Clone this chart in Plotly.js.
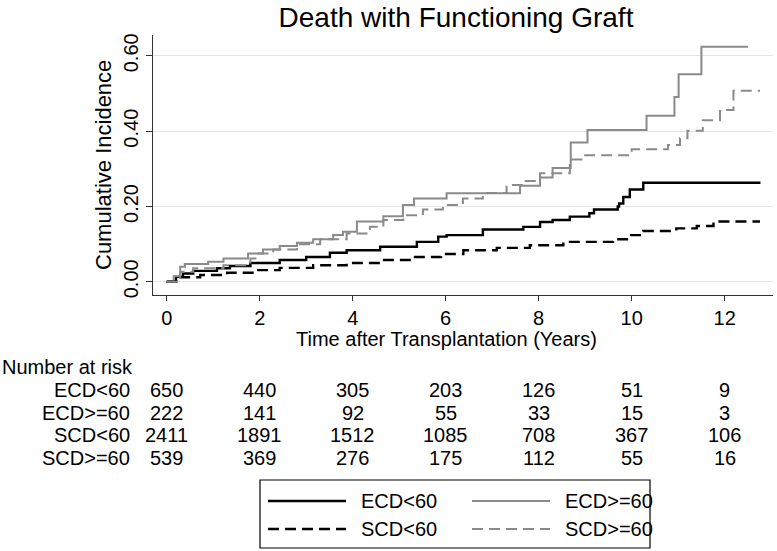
<!DOCTYPE html>
<html><head><meta charset="utf-8">
<script src="https://cdn.plot.ly/plotly-3.0.1.min.js"></script>
<style>body{margin:0;padding:0;background:#fff}#chart{width:777px;height:551px}</style>
</head><body><div id="chart"></div>
<script>
// ---- data ----
const seriesNames = ['ECD&lt;60', 'ECD&gt;=60', 'SCD&lt;60', 'SCD&gt;=60'];

const ecdLt60Time  = [0, 0.2, 0.35, 0.57, 1.08, 1.36, 1.8, 2.43, 3.0, 3.51, 3.87, 4.59, 5.38, 5.84, 6.02, 6.8, 7.67, 8.03, 8.3, 8.67, 9.09, 9.19, 9.7, 9.73, 9.82, 9.96, 10.25, 12.77];
const ecdLt60Value = [0, 0.013, 0.022, 0.029, 0.036, 0.042, 0.05, 0.058, 0.066, 0.077, 0.084, 0.093, 0.106, 0.12, 0.124, 0.139, 0.146, 0.159, 0.164, 0.173, 0.182, 0.192, 0.2, 0.208, 0.225, 0.245, 0.263, 0.263];

const ecdGe60Time  = [0, 0.15, 0.29, 0.39, 0.89, 1.22, 1.75, 2.07, 2.43, 2.8, 3.15, 3.58, 3.79, 4.09, 4.66, 5.08, 5.32, 6.02, 7.6, 8.03, 8.3, 8.69, 9.05, 10.32, 10.92, 11.01, 11.5, 12.5];
const ecdGe60Value = [0, 0.015, 0.04, 0.047, 0.053, 0.062, 0.075, 0.086, 0.095, 0.104, 0.113, 0.124, 0.133, 0.16, 0.174, 0.204, 0.221, 0.235, 0.255, 0.277, 0.302, 0.37, 0.403, 0.441, 0.491, 0.551, 0.624, 0.624];

const scdLt60Time  = [0, 0.2, 0.72, 1.3, 1.94, 2.43, 3.15, 3.87, 4.59, 5.3, 5.9, 6.38, 7.1, 7.81, 8.53, 9.6, 9.96, 10.25, 10.96, 11.4, 11.76, 12.76];
const scdLt60Value = [0, 0.012, 0.018, 0.024, 0.031, 0.037, 0.044, 0.05, 0.058, 0.066, 0.074, 0.084, 0.09, 0.097, 0.106, 0.113, 0.124, 0.135, 0.142, 0.148, 0.16, 0.16];

const scdGe60Time  = [0, 0.29, 0.57, 1.22, 1.8, 1.94, 2.29, 2.8, 3.3, 3.87, 4.37, 4.66, 5.09, 5.51, 5.94, 6.37, 6.8, 7.31, 7.67, 8.03, 8.67, 9.0, 10.0, 10.78, 11.04, 11.2, 11.53, 11.9, 12.19, 12.76];
const scdGe60Value = [0, 0.027, 0.036, 0.044, 0.062, 0.075, 0.086, 0.1, 0.113, 0.128, 0.146, 0.164, 0.177, 0.192, 0.204, 0.221, 0.236, 0.257, 0.268, 0.288, 0.325, 0.336, 0.352, 0.363, 0.381, 0.401, 0.429, 0.456, 0.507, 0.507];

const riskTimes   = [0, 2, 4, 6, 8, 10, 12];
const riskEcdLt60 = [650, 440, 305, 203, 126, 51, 9];
const riskEcdGe60 = [222, 141, 92, 55, 33, 15, 3];
const riskScdLt60 = [2411, 1891, 1512, 1085, 708, 367, 106];
const riskScdGe60 = [539, 369, 276, 175, 112, 55, 16];

const xTicks = [0, 2, 4, 6, 8, 10, 12];
const yTicks = [0, 0.2, 0.4, 0.6];

// ---- layout helpers ----
const W = 777, H = 551, L = 153, R = 4, T = 35, B = 256;
const PW = W - L - R, PH = H - T - B;
const pX = px => (px - L) / PW;
const pY = py => (T + PH - py) / PH;
const FONT = '"Liberation Sans", Arial, Helvetica, sans-serif';
const FS = 20;

const BLACK = '#000000', GRAY = '#8a8a8a';
const styles = [
  {color: BLACK, dash: 'solid', width: 2.4},
  {color: GRAY,  dash: 'solid', width: 2},
  {color: BLACK, dash: '11px,6px', width: 2.4},
  {color: GRAY,  dash: '11px,6px', width: 2}
];
const seriesT = [ecdLt60Time, ecdGe60Time, scdLt60Time, scdGe60Time];
const seriesV = [ecdLt60Value, ecdGe60Value, scdLt60Value, scdGe60Value];
const traces = seriesT.map((t, i) => ({
  type: 'scatter', mode: 'lines', x: t, y: seriesV[i], name: seriesNames[i],
  line: {shape: 'hv', color: styles[i].color, width: styles[i].width, dash: styles[i].dash},
  hoverinfo: 'skip', showlegend: false
}));

const annotations = [];
const shapes = [];
annotations.push({xref: 'paper', yref: 'paper', x: pX(103), y: pY(165), text: 'Cumulative Incidence', textangle: -90,
  showarrow: false, xanchor: 'center', yanchor: 'middle', font: {size: 22}});
annotations.push({xref: 'paper', yref: 'paper', x: pX(446), y: pY(339), text: 'Time after Transplantation (Years)',
  showarrow: false, xanchor: 'center', yanchor: 'middle', font: {size: FS}});
annotations.push({xref: 'paper', yref: 'paper', x: pX(0), y: pY(367), text: 'Number at risk',
  showarrow: false, xanchor: 'left', yanchor: 'middle', font: {size: FS}});
const riskRows = [riskEcdLt60, riskEcdGe60, riskScdLt60, riskScdGe60];
const rowY = [390, 413, 435, 458];
riskRows.forEach((row, r) => {
  annotations.push({xref: 'paper', yref: 'paper', x: pX(132), y: pY(rowY[r]), text: seriesNames[r],
    showarrow: false, xanchor: 'right', yanchor: 'middle', font: {size: FS}});
  row.forEach((n, k) => {
    annotations.push({xref: 'x', yref: 'paper', x: riskTimes[k], y: pY(rowY[r]), text: String(n),
      showarrow: false, xanchor: 'center', yanchor: 'middle', font: {size: FS}});
  });
});

// ---- legend (drawn box) ----
shapes.push({type: 'rect', xref: 'paper', yref: 'paper', x0: pX(260), x1: pX(650), y0: pY(480), y1: pY(548),
  line: {color: '#000', width: 1.2}, fillcolor: 'rgba(0,0,0,0)'});
const legCols = [268, 472], legRows = [501, 529];
seriesNames.forEach((nm, i) => {
  const cx = legCols[i % 2], cy = legRows[Math.floor(i / 2)];
  shapes.push({type: 'line', xref: 'paper', yref: 'paper', x0: pX(cx), x1: pX(cx + 78), y0: pY(cy), y1: pY(cy),
    line: {color: styles[i].color, width: styles[i].width, dash: styles[i].dash}});
  annotations.push({xref: 'paper', yref: 'paper', x: pX(cx + 91), y: pY(cy), text: nm,
    showarrow: false, xanchor: 'left', yanchor: 'middle', font: {size: FS}});
});

const layout = {
  width: W, height: H,
  margin: {l: L, r: R, t: T, b: B, pad: 0},
  paper_bgcolor: '#ffffff', plot_bgcolor: '#ffffff',
  font: {family: FONT, size: FS, color: '#000'},
  showlegend: false,
  title: {text: 'Death with Functioning Graft', xref: 'container', yref: 'container',
    x: 456 / W, y: 1 - 17 / H, xanchor: 'center', yanchor: 'middle', font: {size: 28, color: '#000'}},
  xaxis: {range: [-0.295, 13.04], tickvals: xTicks, ticktext: xTicks.map(String), ticks: 'outside', ticklen: 5,
    tickcolor: '#333', showline: true, linecolor: '#333', linewidth: 1.2, showgrid: false, zeroline: false,
    tickfont: {size: FS}, automargin: false},
  yaxis: {range: [-0.035, 0.6553], tickvals: yTicks, ticktext: yTicks.map(v => v.toFixed(2)), tickangle: -90,
    ticks: 'outside', ticklen: 6, tickcolor: '#333', showline: true, linecolor: '#333', linewidth: 1.2,
    showgrid: true, gridcolor: '#e6e6e6', gridwidth: 1.2, zeroline: false, tickfont: {size: FS}, automargin: false},
  shapes: shapes,
  annotations: annotations
};

Plotly.newPlot('chart', traces, layout, {displayModeBar: false, staticPlot: true});
</script></body></html>
